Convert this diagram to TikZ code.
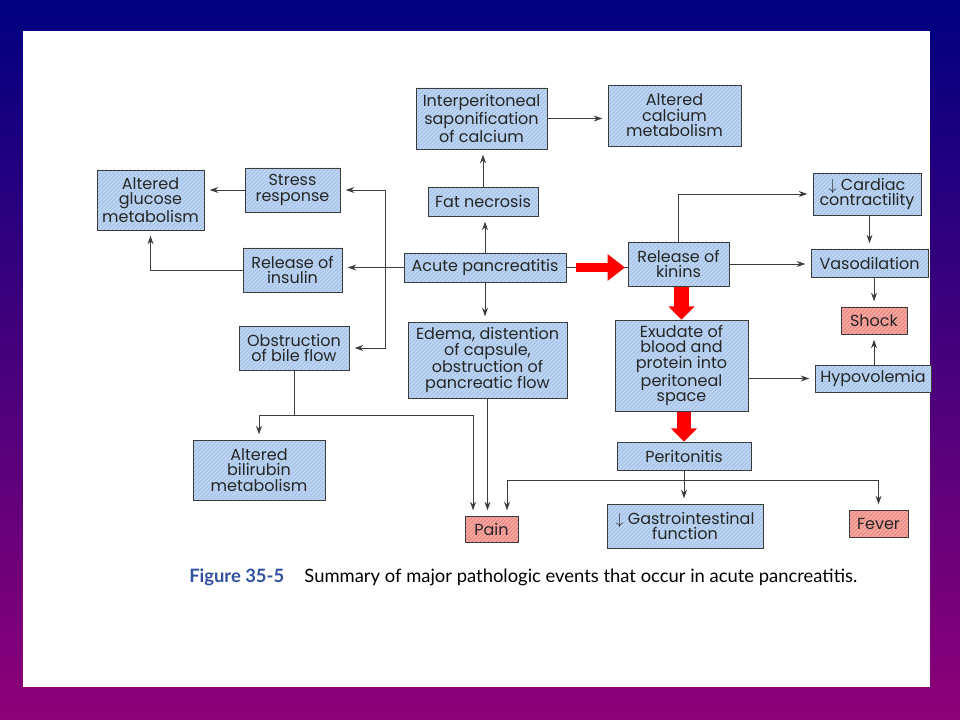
\documentclass[tikz,border=0pt]{standalone}
\usepackage{fontspec}
\newfontfamily\boxfont{Poppins}
\newfontfamily\capfont{Lato}
\usetikzlibrary{positioning}
\usetikzlibrary{arrows.meta}
\usetikzlibrary{calc}
\usetikzlibrary{patterns}
\definecolor{slidetop}{RGB}{0,0,128}
\definecolor{slidebottom}{RGB}{142,0,120}
\definecolor{boxblue}{RGB}{170,200,236}
\definecolor{boxpink}{RGB}{240,142,136}
\definecolor{linegray}{RGB}{60,60,60}
\definecolor{capblue}{RGB}{50,80,160}

\begin{document}
\begin{tikzpicture}[x = 0.75pt, y = -0.75pt,
                    sz/.style 2 args = {minimum width = #1 * 0.75pt, minimum height = #2 * 0.75pt},
                    event/.style = {fill = boxblue, inner sep = 0pt, align = center, text = black!85,
                                    font = \boxfont\fontsize{12}{11.6}\selectfont,
                                    postaction = {pattern = north east lines, pattern color = white!45!boxblue},
                                    postaction = {draw = linegray, line width = 0.6pt}},
                    outcome/.style = {fill = boxpink, inner sep = 0pt, align = center, text = black!85,
                                      font = \boxfont\fontsize{12}{11.6}\selectfont,
                                      postaction = {pattern = north east lines, pattern color = white!45!boxpink},
                                      postaction = {draw = linegray, line width = 0.6pt}},
                    link/.style = {draw = linegray, line width = 0.7pt, -{Stealth[length = 6.5pt, width = 4.4pt]}, shorten > = 4pt},
                    plainlink/.style = {draw = linegray, line width = 0.7pt},
                    bigright/.style = {draw = red, line width = 7pt, -{Triangle[length = 13pt, width = 19pt]}},
                    bigdown/.style = {draw = red, line width = 11pt, -{Triangle[length = 10pt, width = 19pt]}}]
                            \shade[top color = slidetop, bottom color = slidebottom] (0, 0) rectangle (960, 720);
                            \fill[white] (23, 31) rectangle (930, 687);
                            \node[event, sz = {131}{61}] (sapon) at (481.5, 118.5) {Interperitoneal\\saponification\\of calcium};
                            \node[event, sz = {133}{61}] (calcium) at (674.5, 115.5) {Altered\\calcium\\metabolism};
                            \node[event, sz = {110}{29}] (fatnec) at (483, 201.5) {Fat necrosis};
                            \node[event, sz = {162}{29}] (acute) at (485, 267.5) {Acute pancreatitis};
                            \node[event, sz = {159}{76}] (edema) at (487.5, 360) {Edema, distention\\of capsule,\\obstruction of\\pancreatic flow};
                            \node[event, sz = {101}{44}] (kinins) at (678.5, 264) {Release of\\kinins};
                            \node[event, sz = {133}{91}] (exudate) at (681.5, 365.5) {Exudate of\\blood and\\protein into\\peritoneal\\space};
                            \node[event, sz = {134}{28}] (periton) at (684, 456) {Peritonitis};
                            \node[event, sz = {156}{44}] (gastro) at (685, 526) {$\downarrow$ Gastrointestinal\\function};
                            \node[outcome, sz = {59}{27}] (fever) at (878.5, 523.5) {Fever};
                            \node[outcome, sz = {53}{26}] (pain) at (491.5, 529) {Pain};
                            \node[event, sz = {132}{60}] (bilirubin) at (259, 470) {Altered\\bilirubin\\metabolism};
                            \node[event, sz = {107}{60}] (glucose) at (150.5, 200) {Altered\\glucose\\metabolism};
                            \node[event, sz = {95}{44}] (stress) at (292.5, 190) {Stress\\response};
                            \node[event, sz = {99}{44}] (insulin) at (292.5, 270) {Release of\\insulin};
                            \node[event, sz = {110}{44}] (bile) at (294, 348) {Obstruction\\of bile flow};
                            \node[event, sz = {108}{42}] (cardiac) at (867, 194) {$\downarrow$ Cardiac\\contractility};
                            \node[event, sz = {117}{28}] (vaso) at (869.5, 263) {Vasodilation};
                            \node[outcome, sz = {66}{27}] (shock) at (874, 320.5) {Shock};
                            \node[event, sz = {116}{27}] (hypo) at (873, 378.5) {Hypovolemia};
                            \coordinate (leftfork) at (385, 267.5);
                            \coordinate (bilefork) at (294, 415);
                            \coordinate (peritfork) at (684, 480);
                            \draw[link] (sapon.east) -- (sapon.east -| calcium.west);
                            \draw[link] (fatnec.north) -- (fatnec.north |- sapon.south);
                            \draw[link] (acute.north) -- (acute.north |- fatnec.south);
                            \draw[link] (acute.south) -- (acute.south |- edema.north);
                            \draw[link] (acute.west) -- (acute.west -| insulin.east);
                            \draw[link] (leftfork) |- (stress.east);
                            \draw[link] (leftfork) |- (bile.east);
                            \draw[link] (stress.west) -- (stress.west -| glucose.east);
                            \draw[link] (insulin.west) -| (glucose.south);
                            \draw[plainlink] (bile.south) -- (bilefork);
                            \draw[link] (bilefork) -| (bilirubin.north);
                            \draw[link] (bilefork) -| ($(pain.north) + (-18.5, 0)$);
                            \draw[link] (edema.south) -- (edema.south |- pain.north);
                            \draw[link] (periton.south) -- (periton.south |- gastro.north);
                            \draw[link] (peritfork) -| (fever.north);
                            \draw[link] (peritfork) -| ($(pain.north) + (15.5, 0)$);
                            \draw[link] (kinins.north) |- (cardiac.west);
                            \draw[link] (kinins.east) -- (kinins.east -| vaso.west);
                            \draw[link] (cardiac.south -| vaso.north) -- (vaso.north);
                            \draw[link] (vaso.south -| shock.north) -- (shock.north);
                            \draw[link] (hypo.north -| shock.south) -- (shock.south);
                            \draw[link] (exudate.east |- hypo.west) -- (hypo.west);
                            \draw[plainlink] (acute.east) -- (acute.east -| kinins.west);
                            \draw[bigright, shorten < = 7pt, shorten > = 2pt] (acute.east) -- (acute.east -| kinins.west);
                            \draw[bigdown, shorten < = 0.5pt] (kinins.south -| exudate.north) -- (exudate.north);
                            \draw[bigdown, shorten < = 0.5pt] (exudate.south -| periton.north) -- (periton.north);
                            \node[anchor = base west, inner sep = 0pt, font = \capfont\fontsize{13.8}{16}\selectfont] (caption) at (189, 582)
                                {{\color{capblue}\bfseries Figure 35-5}\hspace{1.1em}Summary of major pathologic events that occur in acute pancreatitis.};
                        \end{tikzpicture}
\end{document}
